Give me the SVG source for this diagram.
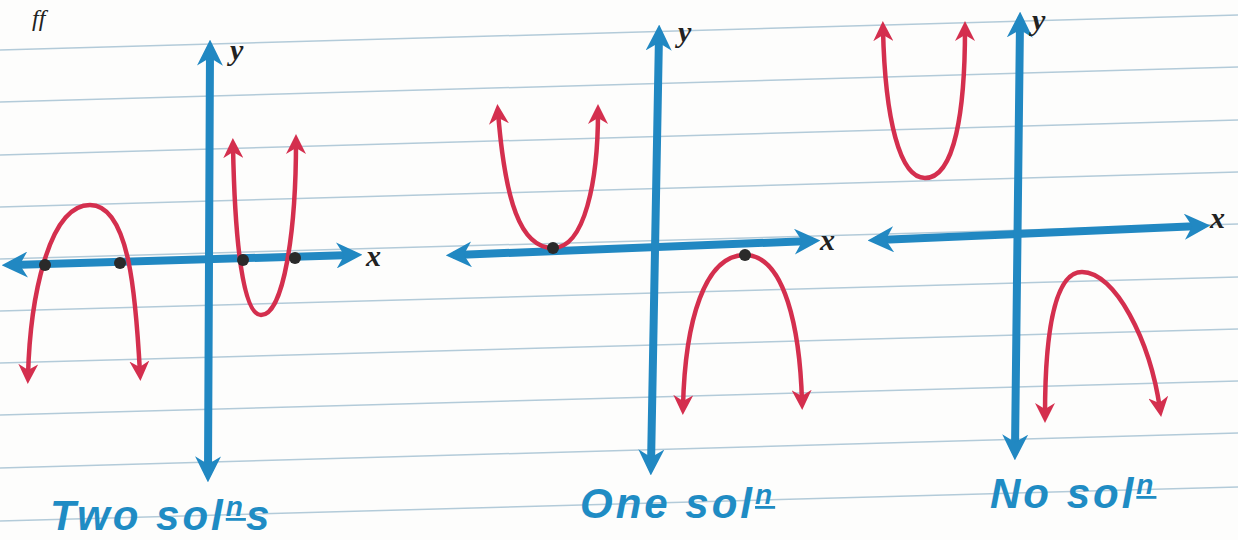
<svg xmlns="http://www.w3.org/2000/svg" width="1238" height="540" viewBox="0 0 1238 540">
<style>
.rule{stroke:#b3cbd9;stroke-width:1.5;fill:none}
.axis{stroke:#2188c2;stroke-width:8;fill:none;stroke-linecap:round;marker-end:url(#ba);marker-start:url(#ba)}
.curve{stroke:#d42f4e;stroke-width:4.5;fill:none;stroke-linecap:round;marker-end:url(#ra);marker-start:url(#ra)}
.dot{fill:#2a2a2a}
.lab{font-family:"Liberation Serif",serif;font-style:italic;font-weight:bold;font-size:30px;fill:#222}
.cap{font-family:"Liberation Sans",sans-serif;font-style:italic;font-weight:bold;font-size:42px;fill:#1f8cc4;letter-spacing:3px}
.sup{font-size:28px}
</style>
<defs>
<marker id="ba" viewBox="0 0 10 10" refX="6" refY="5" markerWidth="26" markerHeight="26" markerUnits="userSpaceOnUse" orient="auto-start-reverse">
<path d="M0,0 L10,5 L0,10 L3,5 Z" fill="#2188c2"/>
</marker>
<marker id="ra" viewBox="0 0 10 10" refX="6" refY="5" markerWidth="20" markerHeight="20" markerUnits="userSpaceOnUse" orient="auto-start-reverse">
<path d="M0,0 L10,5 L0,10 L3,5 Z" fill="#d42f4e"/>
</marker>
</defs>
<rect width="1238" height="540" fill="#fdfdfc"/>
<g id="paper">
<line class="rule" x1="0" y1="50" x2="1238" y2="15"/>
<line class="rule" x1="0" y1="102" x2="1238" y2="67"/>
<line class="rule" x1="0" y1="155" x2="1238" y2="120"/>
<line class="rule" x1="0" y1="207" x2="1238" y2="172"/>
<line class="rule" x1="0" y1="259" x2="1238" y2="224"/>
<line class="rule" x1="0" y1="311" x2="1238" y2="277"/>
<line class="rule" x1="0" y1="363" x2="1238" y2="329"/>
<line class="rule" x1="0" y1="415" x2="1238" y2="381"/>
<line class="rule" x1="0" y1="468" x2="1238" y2="433"/>
<line class="rule" x1="0" y1="521" x2="1238" y2="487"/>
<text x="32" y="26" font-family="Liberation Serif,serif" font-style="italic" font-size="24" fill="#222">ff</text>
</g>
<g id="graph-two">
<line class="axis" x1="12" y1="265" x2="352" y2="255"/>
<line class="axis" x1="208" y1="472" x2="210" y2="50"/>
<text class="lab" x="230" y="60">y</text>
<text class="lab" x="366" y="266">x</text>
<path class="curve" d="M28,376 C30,300 48,205 90,205 C130,205 136,300 140,373"/>
<path class="curve" d="M233,146 C235,250 244,315 261,315 C284,315 296,230 296,142"/>
<circle class="dot" cx="45" cy="265" r="6"/>
<circle class="dot" cx="120" cy="263" r="6"/>
<circle class="dot" cx="243" cy="260" r="6"/>
<circle class="dot" cx="295" cy="258" r="6"/>
<text class="cap" x="50" y="530">Two sol<tspan class="sup" dy="-14" text-decoration="underline">n</tspan><tspan dy="14">s</tspan></text>
</g>
<g id="graph-one">
<line class="axis" x1="456" y1="255" x2="810" y2="241"/>
<line class="axis" x1="651" y1="465" x2="659" y2="35"/>
<text class="lab" x="678" y="42">y</text>
<text class="lab" x="820" y="250">x</text>
<path class="curve" d="M498,112 C505,200 520,248 553,248 C585,248 598,180 598,112"/>
<path class="curve" d="M683,407 C685,320 705,255 745,255 C785,255 800,330 802,402"/>
<circle class="dot" cx="553" cy="248" r="6"/>
<circle class="dot" cx="745" cy="255" r="6"/>
<text class="cap" x="580" y="518">One sol<tspan class="sup" dy="-14" text-decoration="underline">n</tspan></text>
</g>
<g id="graph-none">
<line class="axis" x1="878" y1="240" x2="1200" y2="226"/>
<line class="axis" x1="1015" y1="450" x2="1020" y2="22"/>
<text class="lab" x="1032" y="30">y</text>
<text class="lab" x="1210" y="228">x</text>
<path class="curve" d="M883,29 C885,120 900,178 925,178 C955,178 965,110 965,29"/>
<path class="curve" d="M1045,415 C1045,330 1055,272 1082,272 C1115,272 1150,340 1160,409"/>
<text class="cap" x="990" y="508">No sol<tspan class="sup" dy="-14" text-decoration="underline">n</tspan></text>
</g>
</svg>
